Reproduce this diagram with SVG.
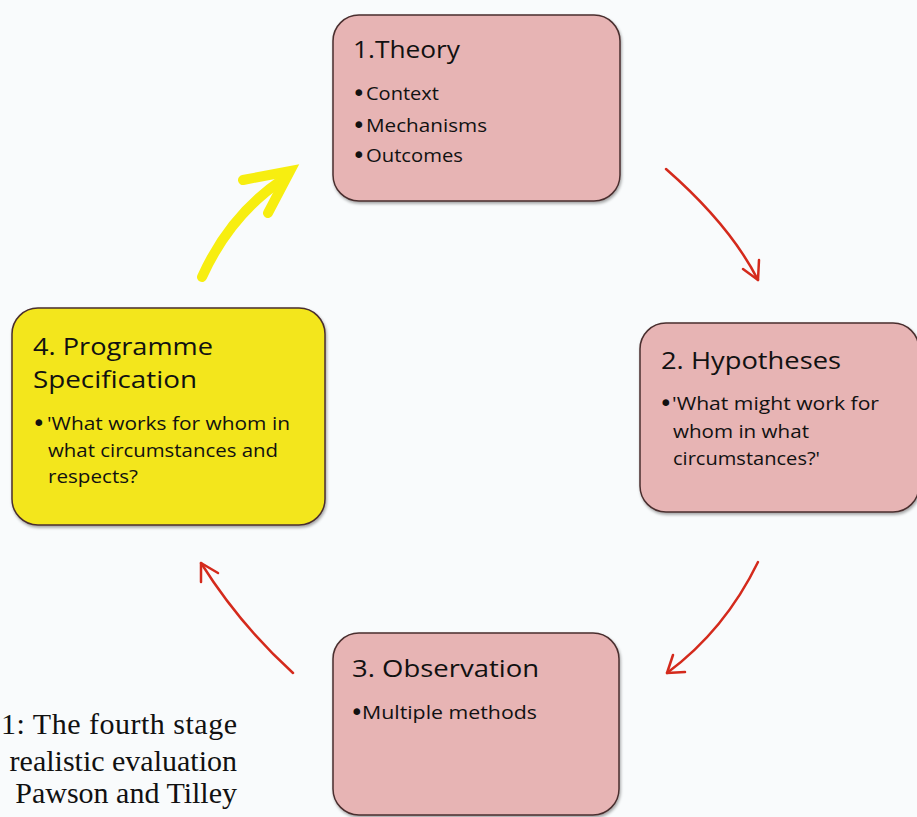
<svg xmlns="http://www.w3.org/2000/svg" width="917" height="817" viewBox="0 0 917 817">
  <defs>
    <filter id="shadow" x="-10%" y="-10%" width="120%" height="120%">
      <feDropShadow dx="1" dy="2" stdDeviation="1.5" flood-color="#000" flood-opacity="0.35"/>
    </filter>
  </defs>
  <style>
    .box { stroke: #4a2f2f; stroke-width: 1.5; filter: url(#shadow); }
    .pink { fill: #e7b4b4; }
    .yellow { fill: #f3e61c; }
    .title { font-family: "Open Sans", "Noto Sans", sans-serif; font-size: 24.5px; fill: #111; }
    .body { font-family: "Open Sans", "Noto Sans", sans-serif; font-size: 19px; fill: #111; }
    .dot { font-family: "DejaVu Sans", sans-serif; font-size: 23px; fill: #111; }
    .caption { font-family: "Liberation Serif", serif; font-size: 30px; fill: #111; }
    .red { fill: none; stroke: #d42a1c; stroke-width: 2.5; stroke-linecap: round; stroke-linejoin: round; }
    .gold { fill: none; stroke: #f7ee10; stroke-width: 10; stroke-linecap: round; stroke-linejoin: miter; }
  </style>
  <rect width="917" height="817" fill="#f9fbfc"/>

  <g id="node-theory">
    <rect class="box pink" x="333" y="15" width="287" height="186" rx="26"/>
    <text class="title" x="353" y="58" textLength="107" lengthAdjust="spacingAndGlyphs">1.Theory</text>
    <text class="dot" x="352" y="101">•</text>
    <text class="body" x="366" y="100" textLength="73" lengthAdjust="spacingAndGlyphs">Context</text>
    <text class="dot" x="352" y="133">•</text>
    <text class="body" x="366" y="132" textLength="121" lengthAdjust="spacingAndGlyphs">Mechanisms</text>
    <text class="dot" x="352" y="163">•</text>
    <text class="body" x="366" y="162" textLength="97" lengthAdjust="spacingAndGlyphs">Outcomes</text>
  </g>

  <g id="node-hypotheses">
    <rect class="box pink" x="640" y="323" width="279" height="189" rx="26"/>
    <text class="title" x="661" y="369" textLength="180" lengthAdjust="spacingAndGlyphs">2. Hypotheses</text>
    <text class="dot" x="659" y="411">•</text>
    <text class="body" x="672" y="410" textLength="207" lengthAdjust="spacingAndGlyphs">'What might work for</text>
    <text class="body" x="673" y="438" textLength="136" lengthAdjust="spacingAndGlyphs">whom in what</text>
    <text class="body" x="673" y="465" textLength="147" lengthAdjust="spacingAndGlyphs">circumstances?'</text>
  </g>

  <g id="node-observation">
    <rect class="box pink" x="333" y="633" width="286" height="182" rx="26"/>
    <text class="title" x="352" y="677" textLength="187" lengthAdjust="spacingAndGlyphs">3. Observation</text>
    <text class="dot" x="350" y="720">•</text>
    <text class="body" x="362" y="719" textLength="175" lengthAdjust="spacingAndGlyphs">Multiple methods</text>
  </g>

  <g id="node-specification">
    <rect class="box yellow" x="12" y="308" width="313" height="217" rx="26"/>
    <text class="title" x="33" y="355" textLength="180" lengthAdjust="spacingAndGlyphs">4. Programme</text>
    <text class="title" x="33" y="388" textLength="164" lengthAdjust="spacingAndGlyphs">Specification</text>
    <text class="dot" x="32" y="431">•</text>
    <text class="body" x="47" y="430" textLength="243" lengthAdjust="spacingAndGlyphs">'What works for whom in</text>
    <text class="body" x="48" y="457" textLength="230" lengthAdjust="spacingAndGlyphs">what circumstances and</text>
    <text class="body" x="48" y="483" textLength="90" lengthAdjust="spacingAndGlyphs">respects?</text>
  </g>

  <g id="connectors">
    <!-- Theory to Hypotheses -->
    <path class="red" d="M666,169 Q730,225 758,280"/>
    <path class="red" d="M743,269 L758,280 L759,260"/>
    <!-- Hypotheses to Observation -->
    <path class="red" d="M758,562 Q725,630 667,673"/>
    <path class="red" d="M673,655 L667,673 L685,672"/>
    <!-- Observation to Specification -->
    <path class="red" d="M293,673 Q240,625 201,563"/>
    <path class="red" d="M201,582 L201,563 L218,573"/>
    <!-- Specification back to Theory -->
    <path class="gold" d="M202,277 Q230,215 282,180"/>
    <path class="gold" d="M243,180 L290,171 L268,213"/>
  </g>

  <g id="caption">
    <text class="caption" x="1" y="734" textLength="236" lengthAdjust="spacing">1: The fourth stage</text>
    <text class="caption" x="237" y="771" text-anchor="end">realistic evaluation</text>
    <text class="caption" x="237" y="803" text-anchor="end">Pawson and Tilley</text>
  </g>
</svg>
